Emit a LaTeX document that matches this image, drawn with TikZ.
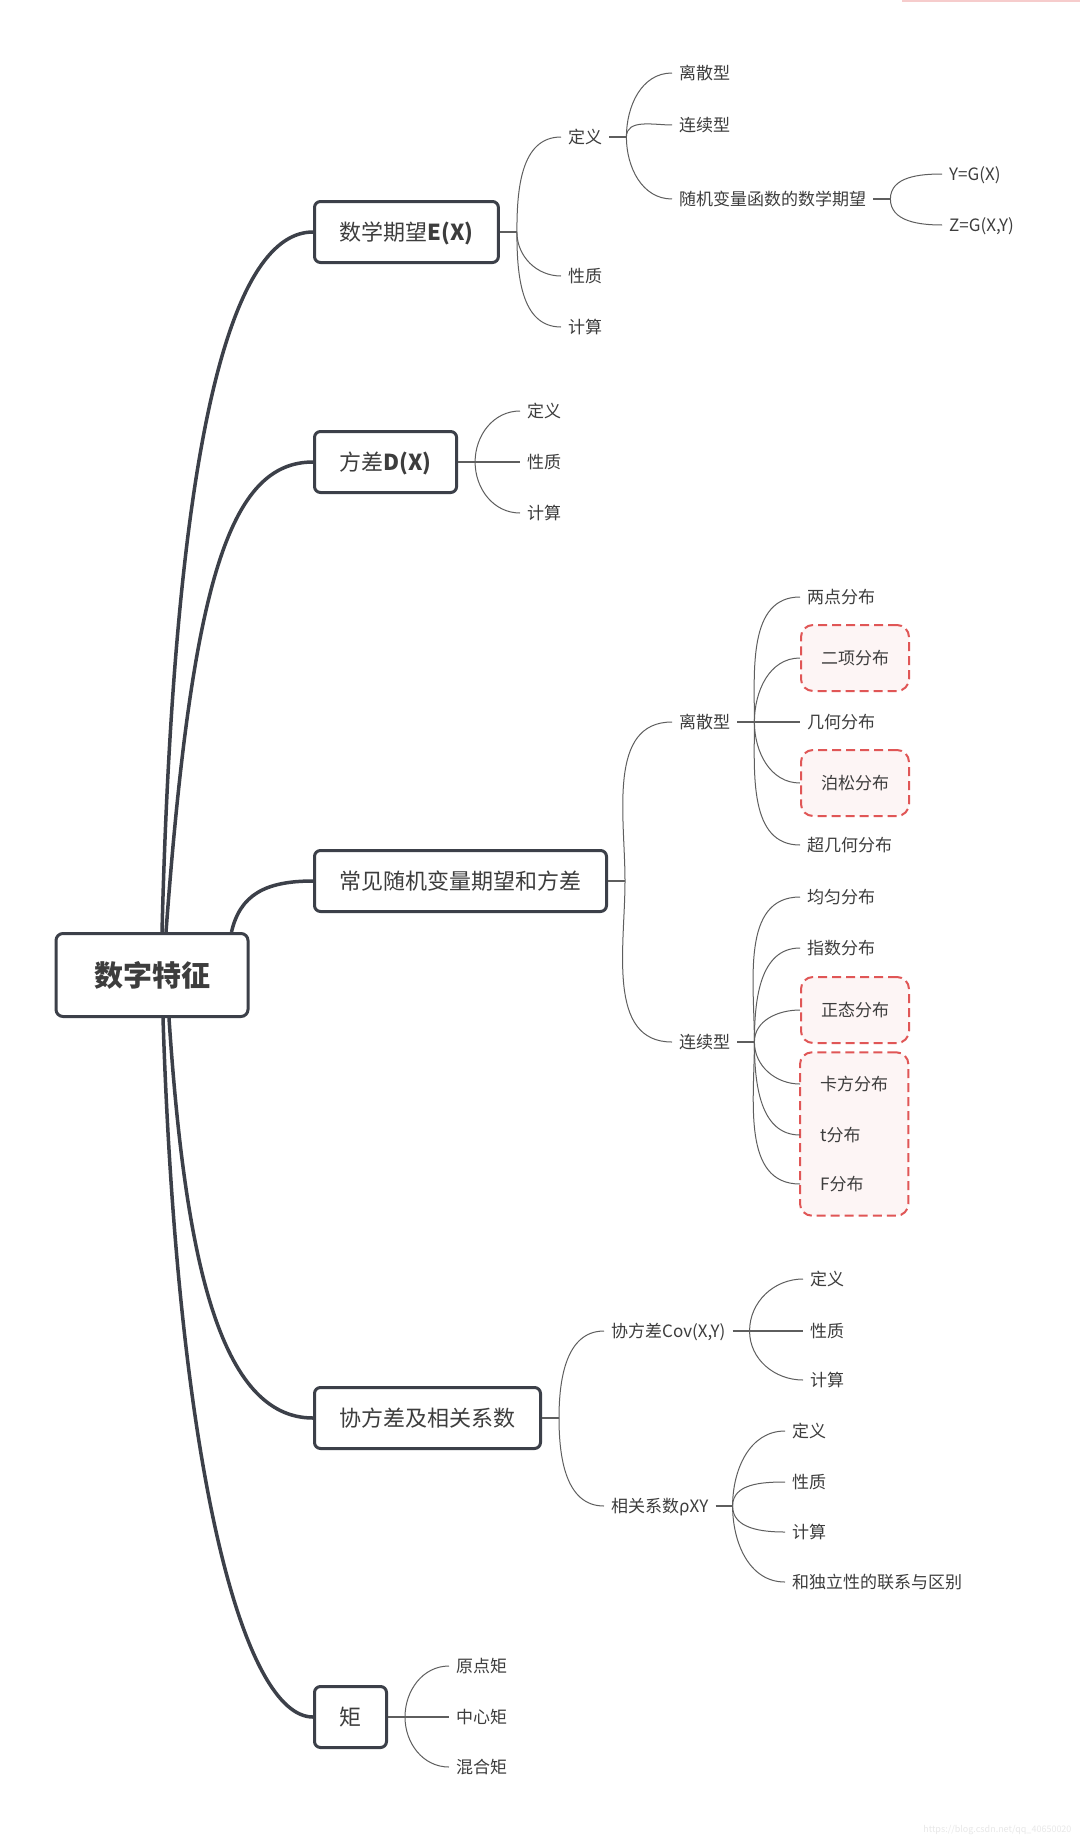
\documentclass[tikz,border=0pt]{standalone}
\usepackage{fontspec}
\newfontfamily\cjk{Noto Sans CJK SC}
\usetikzlibrary{fit,backgrounds}
\definecolor{boxline}{HTML}{3C4049}
\definecolor{txt}{HTML}{3D3D3D}
\definecolor{twiggray}{HTML}{5E5E5E}
\definecolor{hlred}{HTML}{E05656}
\definecolor{hlfill}{HTML}{FDF5F5}
\tikzset{
  rootbox/.style={draw=boxline,line width=3pt,rounded corners=7pt,text=txt,
    font=\cjk\bfseries\fontsize{29}{32}\selectfont,inner xsep=38pt,
    text height=25pt,text depth=3pt,minimum height=83pt},
  topicbox/.style={draw=boxline,line width=3pt,rounded corners=6pt,text=txt,
    font=\cjk\fontsize{22}{26}\selectfont,inner xsep=25pt,
    text height=19pt,text depth=2pt,minimum height=61pt,anchor=west},
  leafnode/.style={text=txt,font=\cjk\fontsize{17}{20}\selectfont,inner xsep=7pt,
    inner ysep=3pt,text height=15pt,text depth=2pt,anchor=west},
  grpnode/.style={leafnode,inner xsep=20pt},
  hlframe/.style={draw=hlred,fill=hlfill,line width=2pt,dash pattern=on 9pt off 5pt,rounded corners=12pt},
  hlnode/.style={grpnode,hlframe,minimum height=66pt},
  trunkline/.style={draw=boxline,line width=3.5pt},
  stubline/.style={draw=twiggray,line width=1.6pt},
  twigline/.style={draw=twiggray,line width=1pt},
}
\begin{document}
\begin{tikzpicture}[x=1pt,y=-1pt]
\useasboundingbox (0,0) rectangle (1080,1841);
% root and main topics
\node[rootbox] (root) at (152,975) {数字特征};
\node[topicbox] (ex) at (313,232) {数学期望\textbf{E(X)}};
\node[topicbox] (dx) at (313,462) {方差\textbf{D(X)}};
\node[topicbox] (common) at (313,881) {常见随机变量期望和方差};
\node[topicbox] (cov) at (313,1418) {协方差及相关系数};
\node[topicbox] (moment) at (313,1717) {矩};
\draw[trunkline] ([xshift=10pt]root.north) .. controls (175,420) and (235,232) .. (ex.west);
\draw[trunkline] ([xshift=14pt]root.north) .. controls (192,580) and (230,462) .. (dx.west);
\draw[trunkline] ([xshift=-18pt]root.north east) .. controls (240,895) and (265,881) .. (common.west);
\draw[trunkline] ([xshift=17pt]root.south) .. controls (185,1260) and (220,1418) .. (cov.west);
\draw[trunkline] ([xshift=11pt]root.south) .. controls (178,1480) and (245,1717) .. (moment.west);

% expectation
\coordinate (exf) at ([xshift=17pt]ex.east);
\draw[stubline] (ex.east) -- (exf);
\node[leafnode] (exdef) at (561,137) {定义};
\node[leafnode] (exprop) at (561,276) {性质};
\node[leafnode] (excalc) at (561,327) {计算};
\foreach \c/\o in {exdef/90,exprop/-90,excalc/-90}
  \draw[twigline] (exf) to[out=\o,in=180] (\c.west);
\coordinate (deff) at ([xshift=17pt]exdef.east);
\draw[stubline] (exdef.east) -- (deff);
\node[leafnode] (disc) at (672,73) {离散型};
\node[leafnode] (cont) at (672,125) {连续型};
\node[leafnode] (func) at (672,199) {随机变量函数的数学期望};
\foreach \c/\o in {disc/90,cont/90,func/-90}
  \draw[twigline] (deff) to[out=\o,in=180] (\c.west);
\coordinate (funcf) at ([xshift=17pt]func.east);
\draw[stubline] (func.east) -- (funcf);
\node[leafnode] (gx) at (942,174) {Y=G(X)};
\node[leafnode] (gxy) at (942,225) {Z=G(X,Y)};
\draw[twigline] (funcf) to[out=90,in=180] (gx.west);
\draw[twigline] (funcf) to[out=-90,in=180] (gxy.west);

% variance
\coordinate (dxf) at ([xshift=17pt]dx.east);
\node[leafnode] (dxdef) at (520,411) {定义};
\node[leafnode] (dxprop) at (520,462) {性质};
\node[leafnode] (dxcalc) at (520,513) {计算};
\draw[stubline] (dx.east) -- (dxprop.west);
\draw[twigline] (dxf) to[out=90,in=180] (dxdef.west);
\draw[twigline] (dxf) to[out=-90,in=180] (dxcalc.west);

% common distributions
\coordinate (comf) at ([xshift=17pt]common.east);
\draw[stubline] (common.east) -- (comf);
\node[leafnode] (dtype) at (672,722) {离散型};
\node[leafnode] (ctype) at (672,1042) {连续型};
\draw[twigline] (comf) to[out=90,in=180] (dtype.west);
\draw[twigline] (comf) to[out=-90,in=180] (ctype.west);

\coordinate (dtf) at ([xshift=17pt]dtype.east);
\node[leafnode] (twopt) at (800,597) {两点分布};
\node[hlnode] (binom) at (800,658) {二项分布};
\node[leafnode] (geom) at (800,722) {几何分布};
\node[hlnode] (pois) at (800,783) {泊松分布};
\node[leafnode] (hyper) at (800,845) {超几何分布};
\draw[stubline] (dtype.east) -- (geom.west);
\foreach \c/\o in {twopt/90,binom/90,pois/-90,hyper/-90}
  \draw[twigline] (dtf) to[out=\o,in=180] (\c.west);

\coordinate (ctf) at ([xshift=17pt]ctype.east);
\draw[stubline] (ctype.east) -- (ctf);
\node[leafnode] (unif) at (800,897) {均匀分布};
\node[leafnode] (expo) at (800,948) {指数分布};
\node[hlnode] (norm) at (800,1010) {正态分布};
\node[grpnode] (chi) at (800,1084) {卡方分布};
\node[grpnode] (tdist) at (800,1135) {t分布};
\node[grpnode] (fdist) at (800,1184) {F分布};
\foreach \c/\o in {unif/90,expo/90,norm/90,chi/-90,tdist/-90,fdist/-90}
  \draw[twigline] (ctf) to[out=\o,in=180] (\c.west);

% covariance and correlation
\coordinate (covf) at ([xshift=17pt]cov.east);
\draw[stubline] (cov.east) -- (covf);
\node[leafnode] (covxy) at (604,1331) {协方差Cov(X,Y)};
\node[leafnode] (rho) at (604,1506) {相关系数ρXY};
\draw[twigline] (covf) to[out=90,in=180] (covxy.west);
\draw[twigline] (covf) to[out=-90,in=180] (rho.west);
\coordinate (cxf) at ([xshift=17pt]covxy.east);
\node[leafnode] (cxdef) at (803,1279) {定义};
\node[leafnode] (cxprop) at (803,1331) {性质};
\node[leafnode] (cxcalc) at (803,1380) {计算};
\draw[stubline] (covxy.east) -- (cxprop.west);
\draw[twigline] (cxf) to[out=90,in=180] (cxdef.west);
\draw[twigline] (cxf) to[out=-90,in=180] (cxcalc.west);
\coordinate (rhof) at ([xshift=17pt]rho.east);
\draw[stubline] (rho.east) -- (rhof);
\node[leafnode] (rhdef) at (785,1431) {定义};
\node[leafnode] (rhprop) at (785,1482) {性质};
\node[leafnode] (rhcalc) at (785,1532) {计算};
\node[leafnode] (rhind) at (785,1582) {和独立性的联系与区别};
\foreach \c/\o in {rhdef/90,rhprop/90,rhcalc/-90,rhind/-90}
  \draw[twigline] (rhof) to[out=\o,in=180] (\c.west);

% moments
\coordinate (mof) at ([xshift=17pt]moment.east);
\node[leafnode] (origin) at (449,1666) {原点矩};
\node[leafnode] (central) at (449,1717) {中心矩};
\node[leafnode] (mixed) at (449,1767) {混合矩};
\draw[stubline] (moment.east) -- (central.west);
\draw[twigline] (mof) to[out=90,in=180] (origin.west);
\draw[twigline] (mof) to[out=-90,in=180] (mixed.west);

\node[font=\cjk\fontsize{9}{10}\selectfont,text=black!9,anchor=east] (mark) at (1075,1830) {https://blog.csdn.net/qq\_40650020};
\draw[hlred!30,line width=2pt] (902,1) -- (1080,1);

\begin{scope}[on background layer]
\fill[white] (0,0) rectangle (1080,1841);
\node[hlframe,fit=(chi)(tdist)(fdist),inner xsep=0pt,inner ysep=20pt] (grpbox) {};
\end{scope}
\end{tikzpicture}
\end{document}
